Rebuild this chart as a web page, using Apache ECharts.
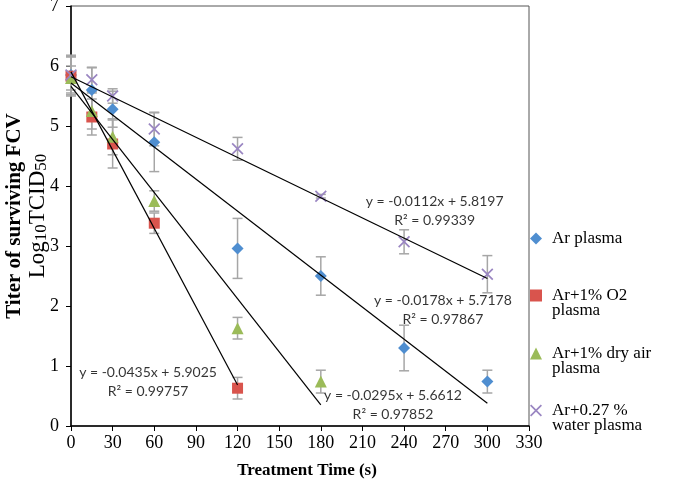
<!DOCTYPE html>
<html><head><meta charset="utf-8">
<script src="https://cdn.jsdelivr.net/npm/echarts@6/dist/echarts.min.js"></script>
<style>html,body{margin:0;padding:0;background:#fff}#c{width:680px;height:495px}</style>
</head><body><div id="c"></div>
<script>
const seriesNames = ['Ar plasma', 'Ar+1% O2 plasma', 'Ar+1% dry air plasma', 'Ar+0.27 % water plasma'];
const legendLabels = ['Ar plasma', 'Ar+1% O2\nplasma', 'Ar+1% dry air\nplasma', 'Ar+0.27 %\nwater plasma'];

const arTimes = [0, 15, 30, 60, 120, 180, 240, 300];
const arValues = [5.85, 5.6, 5.28, 4.73, 2.96, 2.5, 1.3, 0.74];
const arErrors = [0.33, 0.38, 0.3, 0.49, 0.5, 0.32, 0.38, 0.19];

const o2Times = [0, 15, 30, 60, 120];
const o2Values = [5.83, 5.15, 4.7, 3.38, 0.63];
const o2Errors = [0.33, 0.3, 0.4, 0.17, 0.18];

const dryTimes = [0, 15, 30, 60, 120, 180];
const dryValues = [5.8, 5.25, 4.82, 3.75, 1.63, 0.74];
const dryErrors = [0.2, 0.3, 0.3, 0.17, 0.18, 0.19];

const waterTimes = [0, 15, 30, 60, 120, 180, 240, 300];
const waterValues = [5.85, 5.77, 5.5, 4.95, 4.62, 3.83, 3.07, 2.53];
const waterErrors = [0.3, 0.2, 0.12, 0.28, 0.19, 0.03, 0.2, 0.31];

// trend lines: endpoints (x) and values at those endpoints
const trendX = [[0, 300], [0, 120], [0, 180], [0, 300]];
const trendY = [[5.7178, 0.3778], [5.9025, 0.6825], [5.6612, 0.3512], [5.8197, 2.4597]];
const trendText = [
  'y = -0.0178x + 5.7178\nR² = 0.97867',
  'y = -0.0435x + 5.9025\nR² = 0.99757',
  'y = -0.0295x + 5.6612\nR² = 0.97852',
  'y = -0.0112x + 5.8197\nR² = 0.99339'
];
const trendLabelPos = [[268, 1.94], [55.5, 0.74], [232, 0.35], [262, 3.58]];

const colors = ['#4f8ed0', '#d9544d', '#9bbb59', '#9a86c2'];
const xPath = 'path://M0,1L1,0L5,4L9,0L10,1L6,5L10,9L9,10L5,6L1,10L0,9L4,5Z';
const symbols = ['diamond', 'rect', 'triangle', xPath];
const symbolSizes = [12, 11, 12, 12];

const groups = [
  [arTimes, arValues, arErrors],
  [o2Times, o2Values, o2Errors],
  [dryTimes, dryValues, dryErrors],
  [waterTimes, waterValues, waterErrors]
];

const serif = '"Liberation Serif", "Times New Roman", serif';
const sans = 'Lato, "Open Sans", sans-serif';

function errRender(params, api) {
  const x = api.value(0), lo = api.value(1), hi = api.value(2);
  const p1 = api.coord([x, hi]), p2 = api.coord([x, lo]);
  const w = 5;
  const st = {stroke: '#a6a6a6', lineWidth: 1.5};
  return {type: 'group', children: [
    {type: 'line', shape: {x1: p1[0], y1: p1[1], x2: p2[0], y2: p2[1]}, style: st},
    {type: 'line', shape: {x1: p1[0] - w, y1: p1[1], x2: p1[0] + w, y2: p1[1]}, style: st},
    {type: 'line', shape: {x1: p2[0] - w, y1: p2[1], x2: p2[0] + w, y2: p2[1]}, style: st}
  ]};
}

const series = [];
groups.forEach((g, k) => {
  series.push({
    type: 'custom', name: seriesNames[k] + ' err', renderItem: errRender, z: 1, silent: true,
    data: g[0].map((t, i) => [t, g[1][i] - g[2][i], g[1][i] + g[2][i]])
  });
});
groups.forEach((g, k) => {
  series.push({
    type: 'scatter', name: seriesNames[k], symbol: symbols[k], symbolSize: symbolSizes[k], z: 3,
    itemStyle: {color: colors[k], opacity: 1},
    data: g[0].map((t, i) => [t, g[1][i]])
  });
});
trendX.forEach((tx, k) => {
  series.push({
    type: 'line', name: 'trend' + k, symbol: 'none', silent: true, z: 4,
    lineStyle: {color: '#000', width: 1.2},
    data: [[tx[0], trendY[k][0]], [tx[1], trendY[k][1]]]
  });
});
series.push({
  type: 'scatter', name: 'eq', symbolSize: 0, silent: true, z: 5,
  data: trendLabelPos.map((p, i) => ({value: p, label: {formatter: trendText[i]}})),
  label: {show: true, position: 'inside', color: '#000', fontFamily: sans, fontSize: 14, lineHeight: 19, align: 'center'}
});

const legendTops = [230, 272, 330, 387];
const legends = seriesNames.map((n, k) => {
  const two = legendLabels[k].indexOf('\n') >= 0;
  return {
    orient: 'vertical', left: 530, top: legendTops[k], padding: 0,
    itemWidth: 12, itemHeight: 12, selectedMode: false,
    data: [{name: n, icon: symbols[k]}],
    formatter: () => (two ? '\u00a0\n' : '') + legendLabels[k],
    textStyle: {fontFamily: serif, fontSize: 17, color: '#000', lineHeight: 15, padding: [0, 0, 0, 5]}
  };
});

const chart = echarts.init(document.getElementById('c'));
chart.setOption({
  animation: false,
  backgroundColor: '#fff',
  grid: {left: 71, right: 151, top: 6, bottom: 69, show: true, borderColor: '#555', borderWidth: 1,
    containLabel: false, outerBoundsMode: 'none'},
  legend: legends,
  xAxis: {
    type: 'value', min: 0, max: 330, interval: 30,
    name: 'Treatment Time (s)', nameLocation: 'middle', nameGap: 36,
    nameTextStyle: {fontFamily: serif, fontWeight: 'bold', fontSize: 17, color: '#000', padding: [0, 0, 0, 14]},
    axisLine: {lineStyle: {color: '#000', width: 1.5}},
    axisTick: {show: true, length: 5, lineStyle: {color: '#000'}},
    axisLabel: {fontFamily: serif, fontSize: 18, color: '#000', margin: 8},
    splitLine: {show: false}
  },
  yAxis: {
    type: 'value', min: 0, max: 7, interval: 1,
    name: '{b|Titer of surviving FCV}\n{r|Log}{s|10}{r|TCID}{s|50}',
    nameLocation: 'middle', nameGap: 21, nameRotate: 90, nameMoveOverlap: false,
    nameTextStyle: {
      color: '#000', fontFamily: serif, lineHeight: 22,
      rich: {
        b: {fontFamily: serif, fontWeight: 'bold', fontSize: 21, lineHeight: 22, color: '#000'},
        r: {fontFamily: serif, fontSize: 23, lineHeight: 22, color: '#000'},
        s: {fontFamily: serif, fontSize: 17, lineHeight: 24, verticalAlign: 'bottom', color: '#000'}
      }
    },
    axisLine: {show: true, lineStyle: {color: '#000', width: 1.5}},
    axisTick: {show: true, length: 5, lineStyle: {color: '#000'}},
    axisLabel: {fontFamily: serif, fontSize: 18, color: '#000', margin: 12},
    splitLine: {show: false}
  },
  series: series
});
</script>
</body></html>
